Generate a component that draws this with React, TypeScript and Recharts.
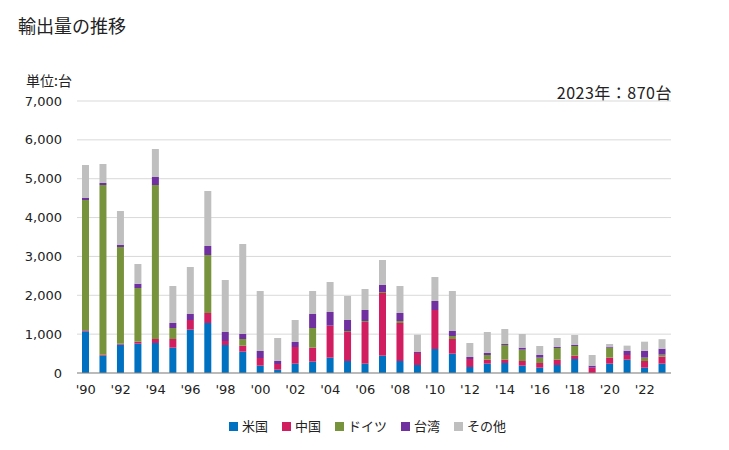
import { BarChart, Bar, XAxis, YAxis, CartesianGrid } from "recharts";

const YEARS = [
  "1990", "1991", "1992", "1993", "1994", "1995", "1996", "1997", "1998", "1999",
  "2000", "2001", "2002", "2003", "2004", "2005", "2006", "2007", "2008", "2009",
  "2010", "2011", "2012", "2013", "2014", "2015", "2016", "2017", "2018", "2019",
  "2020", "2021", "2022", "2023",
];

const US = [1073, 446, 729, 755, 772, 652, 1115, 1287, 721, 549, 189, 86, 240, 292, 395, 309, 240, 446, 309, 206, 618, 497, 154, 240, 257, 189, 137, 206, 360, 0, 240, 343, 137, 240];
const CHINA = [26, 25, 26, 51, 103, 223, 249, 257, 102, 154, 197, 146, 429, 360, 823, 746, 1072, 1613, 978, 309, 1003, 378, 206, 103, 86, 120, 120, 137, 86, 137, 155, 120, 172, 180];
const GERMANY = [3353, 4367, 2487, 1381, 3963, 283, 0, 1493, 0, 172, 0, 0, 0, 506, 0, 26, 26, 25, 51, 0, 0, 77, 0, 120, 378, 291, 138, 300, 249, 0, 257, 0, 86, 52];
const TAIWAN = [51, 51, 52, 111, 206, 129, 154, 231, 232, 129, 180, 77, 129, 360, 352, 283, 283, 181, 206, 25, 232, 129, 52, 52, 25, 52, 68, 26, 26, 52, 26, 111, 179, 154];
const OTHER = [850, 489, 875, 507, 720, 952, 1210, 1416, 1338, 2316, 1544, 592, 566, 592, 772, 617, 541, 643, 695, 446, 617, 1029, 360, 540, 386, 352, 232, 232, 257, 274, 68, 130, 232, 244];

const Y_TICKS = [0, 1000, 2000, 3000, 4000, 5000, 6000, 7000];

const SERIES = [
  { key: "us", name: "米国", color: "#0070c0", values: US },
  { key: "china", name: "中国", color: "#d01e60", values: CHINA },
  { key: "germany", name: "ドイツ", color: "#77933c", values: GERMANY },
  { key: "taiwan", name: "台湾", color: "#7030a0", values: TAIWAN },
  { key: "other", name: "その他", color: "#bfbfbf", values: OTHER },
];

const data = YEARS.map((year, i) => {
  const row: Record<string, string | number> = { year };
  SERIES.forEach((s) => (row[s.key] = s.values[i]));
  return row;
});

const FONT = '"Noto Sans CJK JP", "Noto Sans", sans-serif';
const TICK_FONT = '"DejaVu Sans", Verdana, sans-serif';

export default function App() {
  return (
    <div style={{ position: "absolute", left: 0, top: 0, width: 729, height: 450, background: "#fff", fontFamily: FONT, color: "#222" }}>
      <div style={{ position: "absolute", left: 18, top: 12, fontSize: 18, lineHeight: "26px" }}>輸出量の推移</div>
      <div style={{ position: "absolute", left: 26, top: 70, fontSize: 14, lineHeight: "20px" }}>単位:台</div>
      <div style={{ position: "absolute", right: 57, top: 81, fontSize: 16, lineHeight: "22px", letterSpacing: 0.5 }}>2023年：870台</div>

      <BarChart width={729} height={450} data={data} margin={{ top: 101, right: 58, bottom: 47, left: 0 }}>
        <CartesianGrid vertical={false} stroke="#d9d9d9" />
        <XAxis
          dataKey="year"
          height={30}
          interval={1}
          tickLine={false}
          tickSize={6}
          tickMargin={6}
          axisLine={{ stroke: "#898989" }}
          tick={{ fill: "#222", fontSize: 13, fontFamily: TICK_FONT }}
          tickFormatter={(v: string) => `'${v.slice(2)}`}
        />
        <YAxis
          width={77}
          domain={[0, 7000]}
          ticks={Y_TICKS}
          axisLine={false}
          tickLine={false}
          tickSize={6}
          tickMargin={9}
          tick={{ fill: "#222", fontSize: 13, fontFamily: TICK_FONT }}
          tickFormatter={(v: number) => v.toLocaleString("en-US")}
        />
        {SERIES.map((s) => (
          <Bar key={s.key} dataKey={s.key} name={s.name} stackId="a" fill={s.color} barSize={7} isAnimationActive={false} />
        ))}
      </BarChart>

      <div style={{ position: "absolute", left: 229, top: 416, display: "flex", alignItems: "center", fontSize: 13, lineHeight: "20px" }}>
        {SERIES.map((s) => (
          <div key={s.key} style={{ display: "flex", alignItems: "center", marginRight: 14 }}>
            <span style={{ width: 9, height: 9, background: s.color, marginRight: 4, display: "inline-block" }} />
            <span>{s.name}</span>
          </div>
        ))}
      </div>
    </div>
  );
}
